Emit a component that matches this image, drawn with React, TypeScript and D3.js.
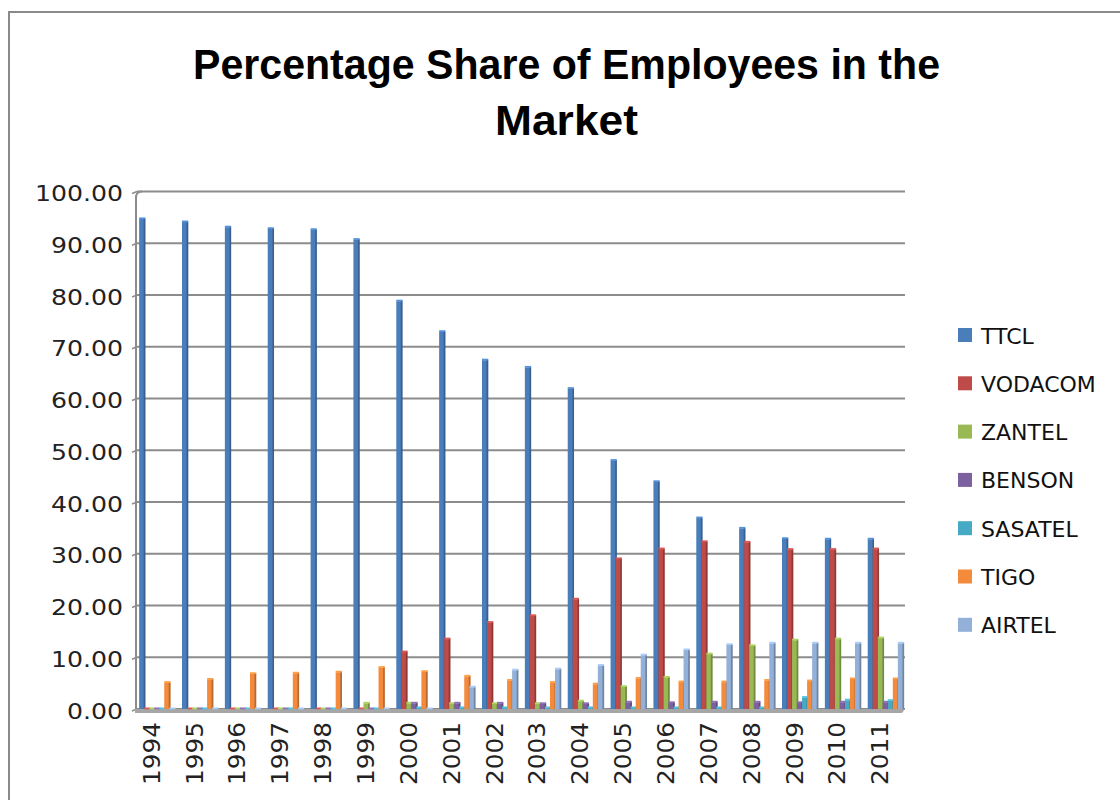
import React from 'react';
import * as d3 from 'd3';

// values
const years = ['1994', '1995', '1996', '1997', '1998', '1999', '2000', '2001', '2002', '2003', '2004', '2005', '2006', '2007', '2008', '2009', '2010', '2011'];
const seriesNames = ['TTCL', 'VODACOM', 'ZANTEL', 'BENSON', 'SASATEL', 'TIGO', 'AIRTEL'];
const ttcl = [94.7, 94.1, 93.1, 92.8, 92.6, 90.7, 78.8, 72.9, 67.4, 66.0, 61.9, 48.0, 43.9, 36.9, 34.9, 32.9, 32.8, 32.8];
const vodacom = [0, 0, 0, 0, 0, 0, 11.0, 13.5, 16.7, 18.0, 21.2, 29.0, 30.9, 32.3, 32.2, 30.8, 30.8, 30.9];
const zantel = [0, 0, 0, 0, 0, 1.1, 1.1, 1.0, 1.0, 1.0, 1.5, 4.3, 6.1, 10.6, 12.2, 13.3, 13.5, 13.7];
const benson = [0, 0, 0, 0, 0, 0, 1.1, 1.1, 1.1, 1.0, 1.0, 1.3, 1.2, 1.3, 1.3, 1.2, 1.3, 1.3];
const sasatel = [0, 0, 0, 0, 0, 0, 0.2, 0.2, 0.2, 0.2, 0.2, 0.2, 0.2, 0.2, 0.2, 2.2, 1.7, 1.6];
const tigo = [5.1, 5.7, 6.8, 6.9, 7.1, 8.0, 7.2, 6.3, 5.5, 5.1, 4.8, 5.9, 5.2, 5.2, 5.5, 5.4, 5.8, 5.8];
const airtel = [0, 0, 0, 0, 0, 0, 0, 4.2, 7.5, 7.7, 8.4, 10.4, 11.4, 12.4, 12.7, 12.7, 12.7, 12.7];
const yTicks = [0, 10, 20, 30, 40, 50, 60, 70, 80, 90, 100];

const seriesValues = [ttcl, vodacom, zantel, benson, sasatel, tigo, airtel];
const colors = ['#4A7EBB', '#BE4B48', '#98B954', '#7D60A0', '#46AAC5', '#F38A3C', '#93B1D8'];

const W = 1120;
const H = 800;
const left = 137;
const right = 905;
const top = 191.5;
const bottom = 709;

const axisFont = '"DejaVu Sans", sans-serif';

// rough width of a number label in the stretched Excel font
const labelWidth = (s: string) => s.split('').reduce((w, ch) => w + (ch === '.' ? 8 : 16), 0);

const App: React.FC = () => {
  const x0 = d3.scaleBand<string>()
    .domain(years)
    .range([left, right])
    .paddingInner(0.18)
    .paddingOuter(0.05);

  const x1 = d3.scaleBand<string>()
    .domain(seriesNames)
    .range([0, x0.bandwidth()]);

  const y = d3.scaleLinear()
    .domain([0, 100])
    .range([bottom, top]);

  const bw = x1.bandwidth();

  return (
    <svg width={W} height={H} style={{ position: 'absolute', left: 0, top: 0, background: '#fff' }}>
      {/* chart border */}
      <rect x={9} y={12} width={W + 20} height={H + 20} fill="none" stroke="#8a8a8a" strokeWidth={2} />

      {/* title */}
      <text x={193} y={79} textLength={747} lengthAdjust="spacingAndGlyphs"
        fontFamily='"Liberation Sans Narrow", "Liberation Sans", sans-serif' fontWeight="bold" fontSize={42} fill="#000">
        Percentage Share of Employees in the
      </text>
      <text x={495} y={135} textLength={143} lengthAdjust="spacingAndGlyphs"
        fontFamily='"Liberation Sans Narrow", "Liberation Sans", sans-serif' fontWeight="bold" fontSize={42} fill="#000">
        Market
      </text>

      {/* gridlines and y labels */}
      {yTicks.map(t => (
        <g key={t}>
          <line x1={left} x2={right} y1={y(t)} y2={y(t)} stroke="#8c8c8c" strokeWidth={2} />
          <line x1={left - 5} x2={left} y1={y(t) + 2} y2={y(t)} stroke="#8c8c8c" strokeWidth={1.5} />
          <text x={123} y={y(t) + 2} textAnchor="end" dominantBaseline="central"
            textLength={labelWidth(t.toFixed(2))} lengthAdjust="spacingAndGlyphs"
            fontFamily={axisFont} fontSize={22} fill="#222">
            {t.toFixed(2)}
          </text>
        </g>
      ))}
      {/* left wall */}
      <line x1={left - 1} x2={left - 1} y1={top + 4} y2={bottom + 2} stroke="#8c8c8c" strokeWidth={2} />
      <path d={`M${left - 1},${top + 6} Q${left - 1},${top} ${left + 5},${top}`} fill="none" stroke="#8c8c8c" strokeWidth={2} />

      {/* floor */}
      <path d={`M${left - 2},${bottom} L${right},${bottom} L${right - 3},${bottom + 4} L${left - 2},${bottom + 4} Z`} fill="#a6a6a6" />

      {/* bars */}
      {years.map((yr, i) => (
        <g key={yr}>
          {seriesNames.map((s, k) => {
            const v = seriesValues[k][i];
            const bx = (x0(yr) as number) + (x1(s) as number);
            const by = y(v);
            const h = Math.max(bottom - by, 0);
            const c = colors[k];
            const dark = d3.color(c)!.darker(0.8).formatHex();
            const light = d3.color(c)!.brighter(0.4).formatHex();
            return (
              <g key={s}>
                <rect x={bx} y={by} width={bw} height={h} fill={c} />
                <rect x={bx + bw - 0.5} y={by - 0.5} width={1.8} height={h + 0.5} fill={dark} />
                <rect x={bx} y={by - 1.5} width={bw + 1.2} height={1.8} fill={light} />
              </g>
            );
          })}
        </g>
      ))}

      {/* x labels */}
      {years.map(yr => {
        const cx = (x0(yr) as number) + x0.bandwidth() / 2 - 5;
        return (
          <text key={yr} transform={`translate(${cx},722) rotate(-90)`} textAnchor="end" dominantBaseline="central"
            textLength={63} lengthAdjust="spacingAndGlyphs"
            fontFamily={axisFont} fontSize={23} fill="#222">
            {yr}
          </text>
        );
      })}

      {/* legend */}
      {seriesNames.map((s, k) => {
        const ly = 335 + k * 48.3;
        return (
          <g key={s}>
            <rect x={958} y={ly - 7} width={14} height={14} fill={colors[k]} />
            <text x={981} y={ly + 1} dominantBaseline="central" fontFamily={axisFont} fontSize={22} fill="#111">
              {s}
            </text>
          </g>
        );
      })}
    </svg>
  );
};

export default App;
